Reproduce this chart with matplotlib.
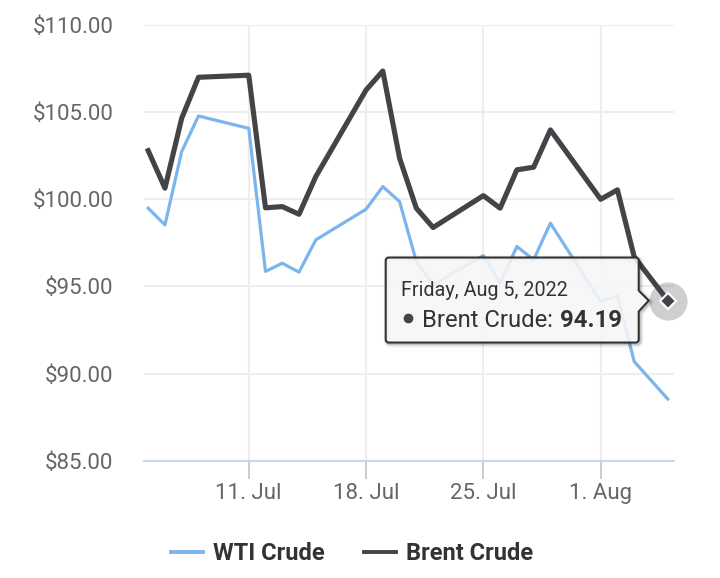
import numpy as np
import pandas as pd
import matplotlib
matplotlib.use('Agg')
import matplotlib.pyplot as plt
import matplotlib.dates as mdates
import matplotlib.transforms as mtransforms
from matplotlib.path import Path
from matplotlib.patches import PathPatch
from matplotlib.lines import Line2D

plt.rcParams['font.family'] = ['Roboto', 'DejaVu Sans']

# Daily closing prices (trading days only)
dates = ['2022-07-05', '2022-07-06', '2022-07-07', '2022-07-08', '2022-07-11',
         '2022-07-12', '2022-07-13', '2022-07-14', '2022-07-15', '2022-07-18',
         '2022-07-19', '2022-07-20', '2022-07-21', '2022-07-22', '2022-07-25',
         '2022-07-26', '2022-07-27', '2022-07-28', '2022-07-29', '2022-08-01',
         '2022-08-02', '2022-08-03', '2022-08-05']
wti = [99.49, 98.53, 102.74, 104.78, 104.07, 95.86, 96.33, 95.82, 97.67, 99.43,
       100.73, 99.87, 96.43, 95.10, 96.77, 95.19, 97.29, 96.53, 98.63, 94.13,
       94.46, 90.69, 88.54]
brent = [102.79, 100.64, 104.65, 107.00, 107.12, 99.51, 99.58, 99.14, 101.30, 106.27,
         107.36, 102.36, 99.49, 98.38, 100.21, 99.49, 101.69, 101.84, 103.98, 100.00,
         100.54, 96.70, 94.19]
series_names = ['WTI Crude', 'Brent Crude']
y_ticks = [85, 90, 95, 100, 105, 110]

wti_color = '#7cb5ec'
brent_color = '#434348'

x = pd.to_datetime(dates)

fig = plt.figure(figsize=(7.2, 5.78), dpi=100)
ax = fig.add_axes([144/720, 117.3/578, 530/720, 435.7/578])

ax.plot(x, wti, color=wti_color, lw=2.3, zorder=3, solid_joinstyle='round')
ax.plot(x, brent, color=brent_color, lw=3.7, zorder=4, solid_joinstyle='round')

ax.set_ylim(85, 110)
ax.set_xlim(x[0] - pd.Timedelta(hours=6), x[-1] + pd.Timedelta(hours=9))
ax.set_yticks(y_ticks)
ax.set_yticklabels(['${:.2f}'.format(v) for v in y_ticks])
ax.xaxis.set_major_locator(mdates.WeekdayLocator(byweekday=mdates.MO))
ax.xaxis.set_major_formatter(mdates.DateFormatter('%-d. %b'))

for s in ['top', 'right', 'left']:
    ax.spines[s].set_visible(False)
ax.spines['bottom'].set_color('#ccd6eb')
ax.spines['bottom'].set_linewidth(1.5)
ax.spines['bottom'].set_zorder(2)

ax.tick_params(axis='y', length=0, pad=22, labelsize=16, labelcolor='#666666')
ax.tick_params(axis='x', length=13, width=1.1, color='#bdbdbd', pad=3,
               labelsize=16, labelcolor='#666666')
ax.grid(True, color='#eeeeee', lw=1.5, zorder=0)
ax.set_axisbelow(True)

# hover state on last Brent point
lx = mdates.date2num(x[-1])
ly = brent[-1]
ax.plot([x[-1]], [ly], 'o', ms=27.5, color=brent_color, alpha=0.25, mew=0, zorder=5, clip_on=False)
ax.plot([x[-1]], [ly], 'D', ms=8.2, color=brent_color, mec='white', mew=1.5, zorder=8, clip_on=False)

# tooltip, drawn in pixel offsets (1/100 inch) from the hovered point
trans = fig.dpi_scale_trans + mtransforms.ScaledTranslation(lx, ly, ax.transData)
L, R, T, B, r = -282, -29, 43, -42, 3
verts = [(L + r, T), (R - r, T), (R, T), (R, T - r), (R, 10), (-19, 0), (R, -11),
         (R, B + r), (R, B), (R - r, B), (L + r, B), (L, B), (L, B + r),
         (L, T - r), (L, T), (L + r, T), (L + r, T)]
codes = [Path.MOVETO, Path.LINETO, Path.CURVE3, Path.CURVE3, Path.LINETO, Path.LINETO,
         Path.LINETO, Path.LINETO, Path.CURVE3, Path.CURVE3, Path.LINETO, Path.CURVE3,
         Path.CURVE3, Path.LINETO, Path.CURVE3, Path.CURVE3, Path.CLOSEPOLY]
tip_path = Path(np.array(verts) / 100.0, codes)

shadow_trans = trans + mtransforms.Affine2D().translate(1.5, -1.5)
for w, a in [(5, 0.05), (3, 0.08), (1.5, 0.12)]:
    ax.add_patch(PathPatch(tip_path, transform=shadow_trans, fc='none',
                           ec=(0, 0, 0, a), lw=w, zorder=6, clip_on=False))
ax.add_patch(PathPatch(tip_path, transform=trans, fc=(0.969, 0.969, 0.969, 0.88),
                       ec='#333333', lw=1.5, zorder=7, clip_on=False))

ax.text(-2.67, 0.05, x[-1].strftime('%A, %b %-d, %Y'), transform=trans,
        fontsize=14.2, color='#333333', ha='left', va='baseline', zorder=9)
ax.plot([-2.60], [-0.17], 'o', ms=7.0, color=brent_color, mew=0, transform=trans,
        zorder=9, clip_on=False)
t1 = ax.text(-2.46, -0.26, series_names[1] + ':', transform=trans,
             fontsize=17.2, color='#333333', ha='left', va='baseline', zorder=9)
ax.annotate('{:.2f}'.format(ly), xy=(1, 0), xycoords=t1, xytext=(5.5, 0),
            textcoords='offset points', fontsize=17.2, fontweight='bold',
            color='#333333', ha='left', va='bottom', zorder=9)

handles = [Line2D([], [], color=wti_color, lw=2.8),
           Line2D([], [], color=brent_color, lw=2.8)]
leg = fig.legend(handles, series_names, loc='center', bbox_to_anchor=(0.489, 0.042),
                 ncol=2, frameon=False, handlelength=1.35, handletextpad=0.45,
                 columnspacing=1.65, prop={'size': 17, 'weight': 'bold'})
for t in leg.get_texts():
    t.set_color('#333333')

fig.savefig('out.png', dpi=100)
